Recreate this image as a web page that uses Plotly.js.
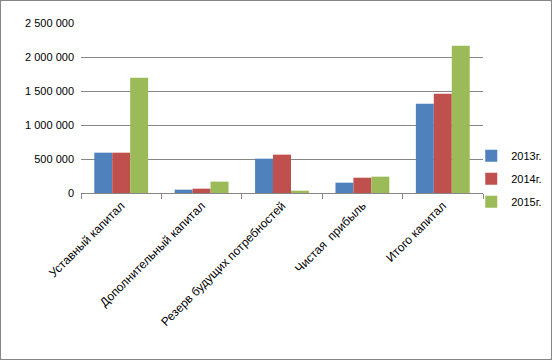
<!DOCTYPE html>
<html><head><meta charset="utf-8">
<script src="https://cdn.plot.ly/plotly-3.0.1.min.js"></script>
<style>html,body{margin:0;padding:0;background:#fff}#c{width:550px;height:358px;border:1px solid #868686}</style>
</head><body><div id="c"></div>
<script>
const categories = ["Уставный капитал", "Дополнительный капитал", "Резерв будущих потребностей", "Чистая  прибыль", "Итого капитал"];
const seriesNames = ["2013г.", "2014г.", "2015г."];
const v2013 = [593000, 49000, 505000, 152000, 1314000];
const v2014 = [593000, 64000, 564000, 225000, 1461000];
const v2015 = [1696000, 167000, 34000, 240000, 2167000];
const colors = ["#4F81BD", "#C0504D", "#9BBB59"];
const yTicks = [0, 500000, 1000000, 1500000, 2000000, 2500000];

const vals = [v2013, v2014, v2015];
const data = vals.map((v, i) => ({
  type: "bar", x: categories, y: v, name: seriesNames[i],
  marker: {color: colors[i]}, legendgroup: "g" + i, hoverinfo: "y"
}));
const layout = {
  width: 550, height: 358,
  margin: {l: 80, r: 68, t: 22, b: 166, autoexpand: false},
  separators: ", ",
  font: {family: "Liberation Sans, Arial, sans-serif", size: 11, color: "#000"},
  barmode: "group", bargap: 0.33, bargroupgap: 0,
  showlegend: true,
  legend: {xref: "container", yref: "container", x: 0.855, y: 0.608, xanchor: "left", yanchor: "top",
           font: {size: 11}, tracegroupgap: 4, traceorder: "grouped", itemwidth: 30, bgcolor: "rgba(0,0,0,0)"},
  xaxis: {tickangle: -45, ticks: "outside", tickson: "boundaries", ticklen: 5, tickcolor: "#868686",
          tickfont: {size: 12},
          showline: true, linecolor: "#868686", linewidth: 1, showgrid: false, automargin: false},
  yaxis: {range: [0, 2500000], tickvals: yTicks, tickformat: ",d", showgrid: true, gridcolor: "#868686", gridwidth: 1,
          zeroline: false, showline: false, ticks: "", automargin: false, ticklabelstandoff: 6},
  plot_bgcolor: "#fff", paper_bgcolor: "#fff"
};
Plotly.newPlot("c", data, layout, {displayModeBar: false, staticPlot: true});
</script></body></html>
